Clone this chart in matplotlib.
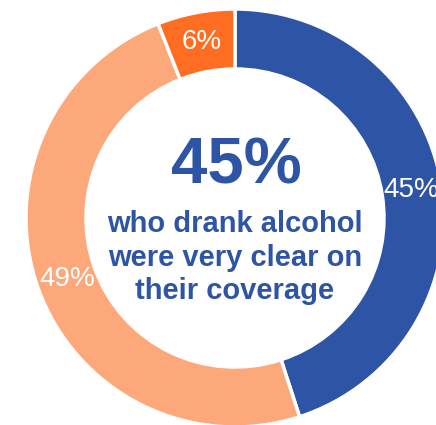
import matplotlib.pyplot as plt

# dados do gráfico
categorias = ['Very clear', 'Not very clear', 'Unsure']
valores = [45, 49, 6]
rotulos = ['45%', '49%', '6%']
cores = ['#2E55A5', '#FDA87B', '#FF6D22']

titulo_valor = '45%'
titulo_linhas = ['who drank alcohol', 'were very clear on', 'their coverage']

plt.rcParams['font.family'] = ['Liberation Sans', 'DejaVu Sans']

W, H = 436, 425
cx, cy, R = 235, 218, 209  # centro e raio em pixels


def px(x, y):
    """Converte pixels da imagem em coordenadas de dados."""
    return (x - cx) / R, (cy - y) / R


fig = plt.figure(figsize=(W / 100, H / 100), dpi=100)
ax = fig.add_axes([0, 0, 1, 1])

ax.pie(valores, labels=rotulos, colors=cores, startangle=90, counterclock=False,
       radius=1, labeldistance=0.855,
       wedgeprops=dict(width=0.287, edgecolor='white', linewidth=2.5),
       textprops=dict(color='white', fontsize=20, ha='center', va='center'))

# texto central
x0, y0 = px(236, 167)
ax.text(x0, y0, titulo_valor, color='#2E55A5', fontsize=47, fontweight='bold',
        ha='center', va='center')
for i, linha in enumerate(titulo_linhas):
    xl, yl = px(235, 232 + 33.5 * i)
    ax.text(xl, yl, linha, color='#2E55A5', fontsize=21, fontweight='bold',
            ha='center', va='baseline')

ax.set_xlim(-cx / R, (W - cx) / R)
ax.set_ylim(-(H - cy) / R, cy / R)
ax.set_aspect('equal')
ax.axis('off')

plt.savefig('out.png', dpi=100)
